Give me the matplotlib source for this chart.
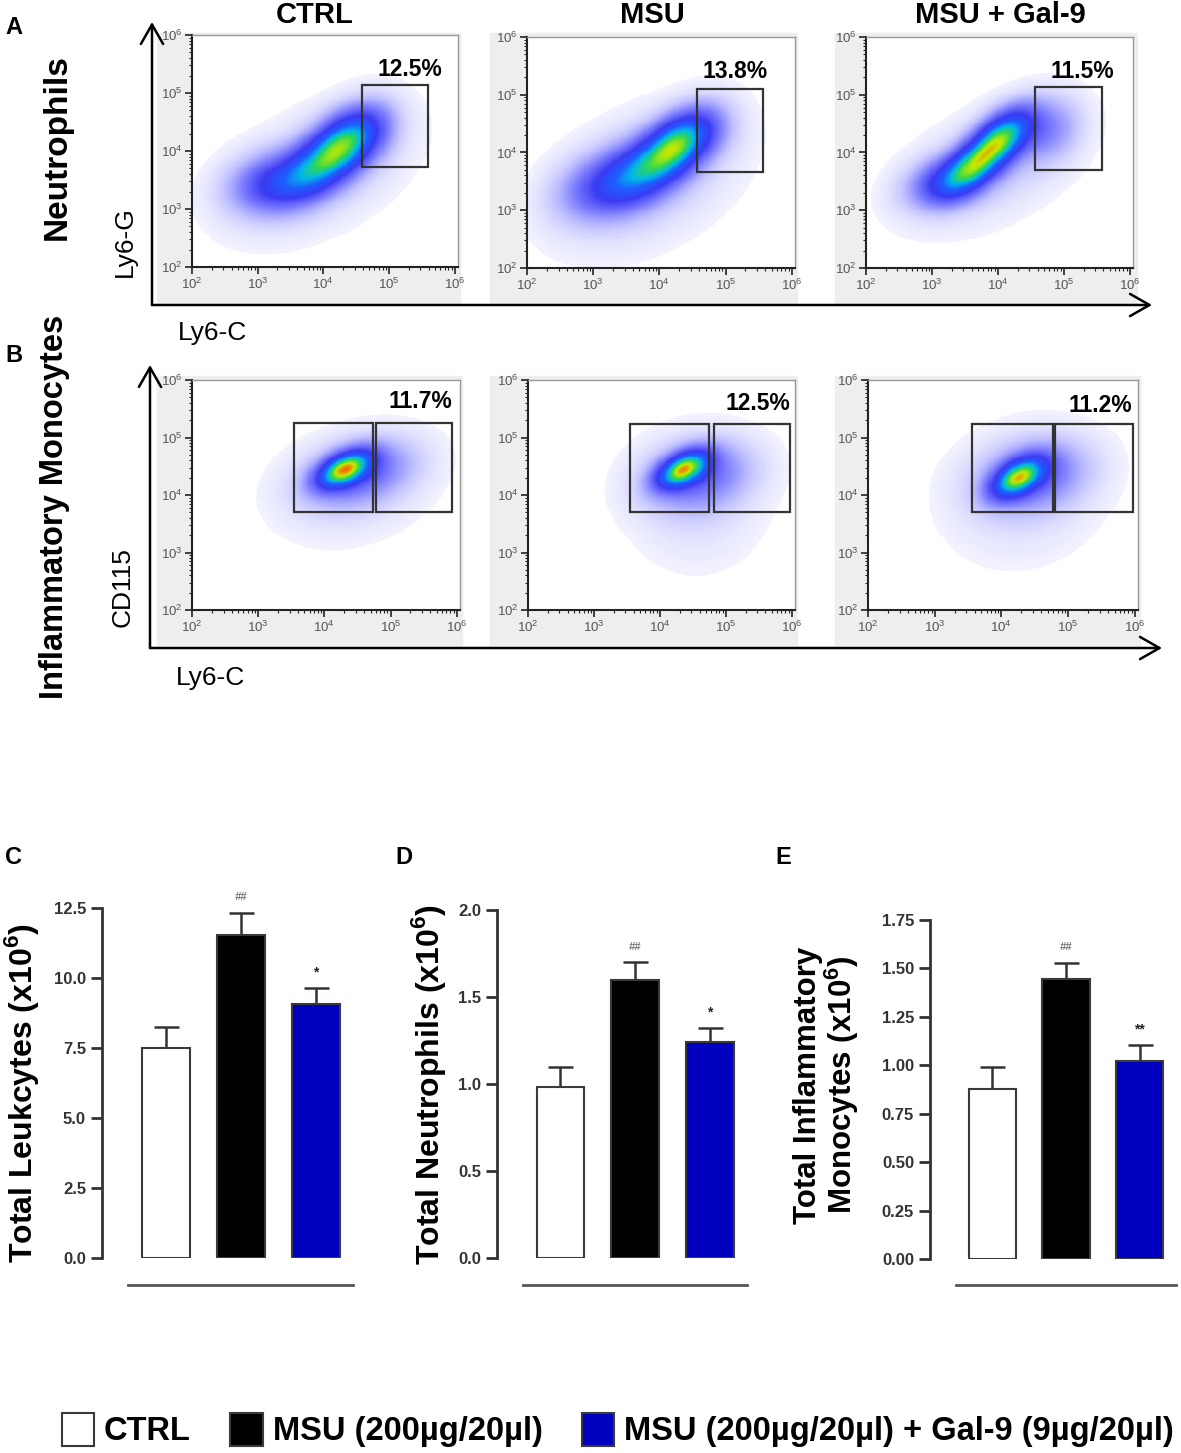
import numpy as np
import matplotlib
matplotlib.use('Agg')
import matplotlib.pyplot as plt
from matplotlib.colors import LinearSegmentedColormap
from matplotlib.patches import Rectangle, FancyArrowPatch
from matplotlib.ticker import FixedLocator, FormatStrFormatter, LogLocator, NullFormatter
from matplotlib.transforms import blended_transform_factory

plt.rcParams['font.family'] = ['Liberation Sans', 'DejaVu Sans']
plt.rcParams['mathtext.fontset'] = 'custom'
plt.rcParams['mathtext.rm'] = 'Liberation Sans'
plt.rcParams['mathtext.bf'] = 'Liberation Sans:bold'

W, H = 1181, 1453

# ---- data ----
groups = ['CTRL', 'MSU', 'MSU + Gal-9']
legend_labels = ['CTRL', 'MSU (200µg/20µl)', 'MSU (200µg/20µl) + Gal-9 (9µg/20µl)']
bar_colors = ['white', 'black', '#0000be']

leuk_mean = [7.5, 11.55, 9.07]
leuk_err = [0.75, 0.78, 0.57]
leuk_sig = ['', '##', '*']

neut_mean = [0.98, 1.60, 1.24]
neut_err = [0.12, 0.10, 0.08]
neut_sig = ['', '##', '*']

mono_mean = [0.88, 1.445, 1.02]
mono_err = [0.11, 0.085, 0.085]
mono_sig = ['', '##', '**']

neut_pct = ['12.5%', '13.8%', '11.5%']
mono_pct = ['11.7%', '12.5%', '11.2%']

# gates in log10 units: x0, x1, y0, y1
neut_gates = [(4.59, 5.60, 3.72, 5.13), (4.57, 5.57, 3.67, 5.10), (4.57, 5.58, 3.69, 5.13)]
mono_gates_left = [(3.54, 4.74, 3.71, 5.26), (3.55, 4.75, 3.70, 5.24), (3.56, 4.78, 3.70, 5.24)]
mono_gates_right = [(4.78, 5.93, 3.71, 5.26), (4.82, 5.97, 3.70, 5.24), (4.81, 5.97, 3.70, 5.24)]

# population blobs, log10 units: cx, cy, sx, sy, rho, weight
neut_ctrl_blobs = [(3.20, 3.45, 0.45, 0.35, 0.2, 0.55), (3.95, 3.75, 0.42, 0.40, 0.5, 0.80),
                   (4.35, 4.20, 0.35, 0.38, 0.4, 0.80), (4.75, 4.35, 0.30, 0.35, 0.2, 0.25),
                   (3.90, 3.65, 0.85, 0.70, 0.45, 0.20)]
neut_msu_blobs = [(3.20, 3.45, 0.50, 0.40, 0.3, 0.50), (3.90, 3.80, 0.45, 0.42, 0.5, 0.75),
                  (4.30, 4.20, 0.32, 0.36, 0.4, 0.80), (4.75, 4.40, 0.30, 0.35, 0.2, 0.25),
                  (3.80, 3.55, 0.85, 0.75, 0.4, 0.22)]
neut_gal_blobs = [(3.20, 3.50, 0.40, 0.30, 0.3, 0.50), (3.65, 3.80, 0.34, 0.36, 0.6, 0.80),
                  (4.10, 4.30, 0.32, 0.35, 0.5, 0.90), (4.80, 4.40, 0.32, 0.38, 0.2, 0.28),
                  (3.85, 3.75, 0.80, 0.65, 0.45, 0.18)]
mono_ctrl_blobs = [(4.30, 4.45, 0.28, 0.22, 0.5, 1.0), (4.55, 4.40, 0.55, 0.38, 0.3, 0.40),
                   (4.40, 4.10, 0.75, 0.60, 0.2, 0.10)]
mono_msu_blobs = [(4.35, 4.45, 0.27, 0.22, 0.5, 1.0), (4.60, 4.35, 0.55, 0.40, 0.2, 0.38),
                  (4.55, 3.90, 0.65, 0.75, 0.0, 0.10)]
mono_gal_blobs = [(4.25, 4.30, 0.27, 0.24, 0.5, 1.0), (4.50, 4.35, 0.55, 0.42, 0.2, 0.42),
                  (4.30, 3.95, 0.75, 0.75, 0.1, 0.10)]
neut_blobs = [neut_ctrl_blobs, neut_msu_blobs, neut_gal_blobs]
mono_blobs = [mono_ctrl_blobs, mono_msu_blobs, mono_gal_blobs]
neut_peak = [0.88, 0.9, 0.93]
mono_peak = [0.98, 0.96, 0.94]

flow_cmap = LinearSegmentedColormap.from_list('flow', [
    (0.0, '#f8f8ff'), (0.10, '#cacaff'), (0.25, '#7c7cff'), (0.42, '#3a3af2'),
    (0.58, '#1e5cff'), (0.70, '#00b8e8'), (0.80, '#30d850'), (0.90, '#c8e800'),
    (1.0, '#ff5000')])


def px_rect(x0, y0, x1, y1):
    return [x0 / W, 1 - y1 / H, (x1 - x0) / W, (y1 - y0) / H]


def density(blobs, gx, gy):
    z = np.zeros_like(gx)
    for cx, cy, sx, sy, r, w in blobs:
        dx = (gx - cx) / sx
        dy = (gy - cy) / sy
        q = (dx * dx - 2 * r * dx * dy + dy * dy) / (1 - r * r)
        z += w * np.exp(-0.5 * q)
    return z / z.max()


def flow_panel(fig, rect, blobs, peak, gates):
    ax = fig.add_axes(rect)
    lx = np.linspace(2, 6.05, 260)
    ly = np.linspace(2, 6.0, 240)
    gx, gy = np.meshgrid(lx, ly)
    z = density(blobs, gx, gy) * peak
    z = np.ma.masked_less(z, 0.015)
    ax.pcolormesh(10 ** lx, 10 ** ly, z, cmap=flow_cmap, vmin=0, vmax=1, shading='auto')
    ax.set_xscale('log')
    ax.set_yscale('log')
    ax.set_xlim(1e2, 10 ** 6.05)
    ax.set_ylim(1e2, 1e6)
    for g in gates:
        ax.add_patch(Rectangle((10 ** g[0], 10 ** g[2]), 10 ** g[1] - 10 ** g[0],
                               10 ** g[3] - 10 ** g[2], fill=False, ec='#333333', lw=1.6))
    ax.xaxis.set_major_locator(FixedLocator([1e2, 1e3, 1e4, 1e5, 1e6]))
    ax.yaxis.set_major_locator(FixedLocator([1e2, 1e3, 1e4, 1e5, 1e6]))
    ax.xaxis.set_minor_locator(LogLocator(base=10, subs=np.arange(2, 10)))
    ax.yaxis.set_minor_locator(LogLocator(base=10, subs=np.arange(2, 10)))
    ax.xaxis.set_minor_formatter(NullFormatter())
    ax.yaxis.set_minor_formatter(NullFormatter())
    ax.tick_params(which='major', length=5, width=1.2, labelsize=9.5, colors='#222222',
                   labelcolor='#555555', pad=2)
    ax.tick_params(which='minor', length=2.5, width=0.8, colors='#222222')
    for s in ['left', 'bottom']:
        ax.spines[s].set_color('#222222')
        ax.spines[s].set_linewidth(1.5)
    for s in ['top', 'right']:
        ax.spines[s].set_color('#999999')
        ax.spines[s].set_linewidth(1.0)
    return ax


def bar_panel(fig, rect, means, errs, sigs, ymax, step, fmt):
    ax = fig.add_axes(rect)
    x = np.arange(len(means))
    bars = ax.bar(x, means, width=0.64, color=bar_colors, edgecolor='#3a3a3a', linewidth=1.5,
                  zorder=3)
    ax.errorbar(x, means, yerr=[np.zeros(len(errs)), errs], fmt='none', ecolor='#333333',
                elinewidth=1.8, capsize=9, capthick=1.8, zorder=2)
    for xi, m, e, s in zip(x, means, errs, sigs):
        if s:
            ax.text(xi, m + e + 0.045 * ymax, s, ha='center', va='center',
                    fontsize=8 if s.startswith('#') else 10,
                    color='#777777' if s.startswith('#') else '#222222',
                    fontstyle='italic' if s.startswith('#') else 'normal', fontweight='bold')
    ax.set_xlim(-0.85, 2.51)
    ax.set_ylim(0, ymax)
    ax.set_yticks(np.arange(0, ymax + step / 2, step))
    ax.yaxis.set_major_formatter(FormatStrFormatter(fmt))
    ax.set_xticks([])
    for s in ['top', 'right', 'bottom']:
        ax.spines[s].set_visible(False)
    ax.spines['left'].set_linewidth(2)
    ax.spines['left'].set_color('#333333')
    ax.tick_params(axis='y', length=8, width=2, color='#333333', labelsize=12,
                   labelcolor='#333333')
    for lab in ax.get_yticklabels():
        lab.set_fontweight('bold')
    tr = blended_transform_factory(ax.transData, ax.transAxes)
    ax.plot([-0.5, 2.5], [-0.077, -0.077], transform=tr, color='#555555', lw=2, clip_on=False)
    return ax, bars


fig = plt.figure(figsize=(W / 100, H / 100), dpi=100)

# gray backdrops of the cytometer exports
gray_a = [(157, 33, 460, 303), (490, 33, 797, 303), (835, 33, 1137, 303)]
gray_b = [(157, 376, 462, 645), (490, 376, 797, 645), (835, 376, 1140, 645)]
for g in gray_a + gray_b:
    r = px_rect(*g)
    fig.add_artist(Rectangle((r[0], r[1]), r[2], r[3], transform=fig.transFigure,
                             color='#eeeeee', zorder=-10))

neut_rects = [px_rect(192, 35, 458, 267), px_rect(527, 37, 795, 268), px_rect(866, 37, 1133, 268)]
mono_rects = [px_rect(192, 380, 460, 610), px_rect(528, 380, 795, 610), px_rect(868, 380, 1138, 610)]

for i in range(3):
    flow_panel(fig, neut_rects[i], neut_blobs[i], neut_peak[i], [neut_gates[i]])
    flow_panel(fig, mono_rects[i], mono_blobs[i], mono_peak[i],
               [mono_gates_left[i], mono_gates_right[i]])

# percent labels
pct_pos_a = [(410, 70), (735, 72), (1082, 72)]
pct_pos_b = [(420, 402), (758, 404), (1100, 405)]
for (px, py), t in zip(pct_pos_a, neut_pct):
    fig.text(px / W, 1 - py / H, t, ha='center', va='center', fontsize=16.5, fontweight='bold')
for (px, py), t in zip(pct_pos_b, mono_pct):
    fig.text(px / W, 1 - py / H, t, ha='center', va='center', fontsize=16.5, fontweight='bold')

# column titles
title_x = [315, 652, 1000]
for tx, t in zip(title_x, groups):
    fig.text(tx / W, 1 - 15 / H, t, ha='center', va='center', fontsize=21, fontweight='bold')


def fig_arrow(p0, p1):
    fig.add_artist(FancyArrowPatch((p0[0] / W, 1 - p0[1] / H), (p1[0] / W, 1 - p1[1] / H),
                                   transform=fig.transFigure, arrowstyle='->,head_length=0.7,head_width=0.4',
                                   mutation_scale=20, lw=1.8, color='black', shrinkA=0, shrinkB=0))


fig_arrow((152, 305), (152, 22))
fig_arrow((152, 305), (1152, 305))
fig_arrow((150, 648), (150, 365))
fig_arrow((150, 648), (1162, 648))

# axis captions
fig.text(212 / W, 1 - 333 / H, 'Ly6-C', ha='center', va='center', fontsize=19)
fig.text(125 / W, 1 - 242 / H, 'Ly6-G', ha='center', va='center', fontsize=19, rotation=90)
fig.text(210 / W, 1 - 678 / H, 'Ly6-C', ha='center', va='center', fontsize=19)
fig.text(123 / W, 1 - 587 / H, 'CD115', ha='center', va='center', fontsize=19, rotation=90)
fig.text(57 / W, 1 - 147 / H, 'Neutrophils', ha='center', va='center', fontsize=24,
         fontweight='bold', rotation=90)
fig.text(55 / W, 1 - 507 / H, 'Inflammatory Monocytes', ha='center', va='center', fontsize=23.5,
         fontweight='bold', rotation=90)

# panel letters
for lx, ly, l in [(14, 27, 'A'), (14, 355, 'B'), (14, 857, 'C'), (404, 857, 'D'), (783, 857, 'E')]:
    fig.text(lx / W, 1 - ly / H, l, ha='center', va='center', fontsize=17, fontweight='bold')

# bar charts
ax_c, bars_c = bar_panel(fig, px_rect(102, 908, 354, 1258), leuk_mean, leuk_err, leuk_sig,
                         12.5, 2.5, '%.1f')
ax_d, bars_d = bar_panel(fig, px_rect(497, 910, 748, 1258), neut_mean, neut_err, neut_sig,
                         2.0, 0.5, '%.1f')
ax_e, bars_e = bar_panel(fig, px_rect(930, 920, 1177, 1259), mono_mean, mono_err, mono_sig,
                         1.75, 0.25, '%.2f')

fig.text(22 / W, 1 - 1093 / H, 'Total Leukcytes (x10$^{\\mathbf{6}}$)', ha='center', va='center',
         fontsize=23, fontweight='bold', rotation=90)
fig.text(428 / W, 1 - 1085 / H, 'Total Neutrophils (x10$^{\\mathbf{6}}$)', ha='center', va='center',
         fontsize=23, fontweight='bold', rotation=90)
fig.text(827 / W, 1 - 1085 / H, 'Total Inflammatory\nMonocytes (x10$^{\\mathbf{6}}$)', ha='center',
         va='center', fontsize=22.5, fontweight='bold', rotation=90, linespacing=1.0)

fig.legend(handles=list(bars_c), labels=legend_labels, ncol=3, loc='center',
           bbox_to_anchor=(0.523, 1 - 1430 / H), frameon=False,
           prop={'weight': 'bold', 'size': 23.5}, handlelength=1.0, handleheight=1.2,
           handletextpad=0.3, columnspacing=1.2)

fig.savefig('out.png', dpi=100)
